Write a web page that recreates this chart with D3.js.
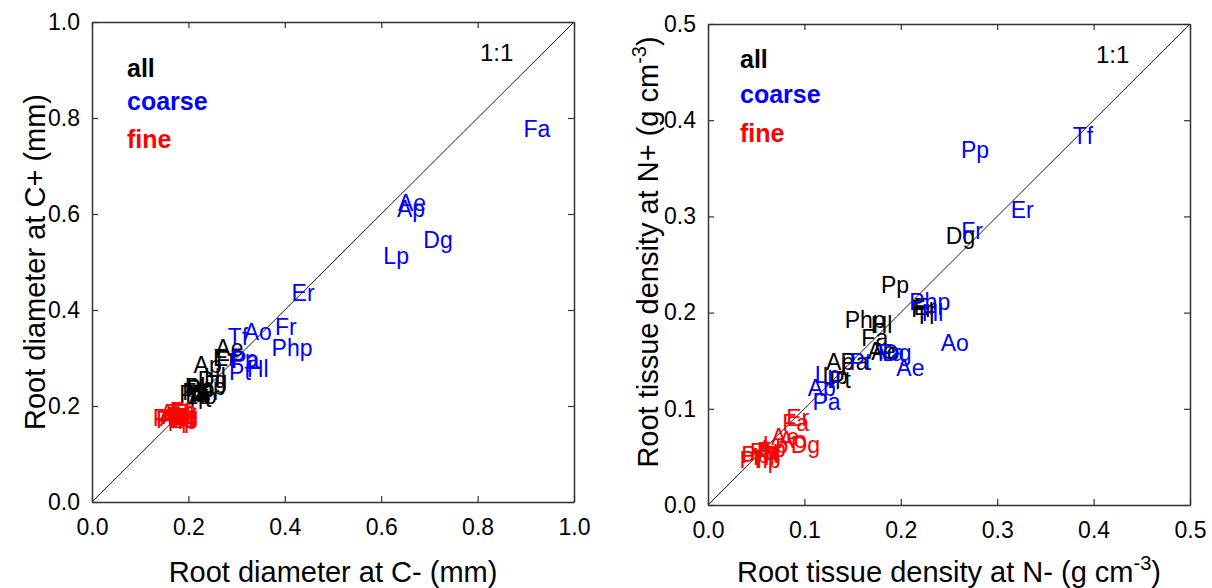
<!DOCTYPE html>
<html>
<head>
<meta charset="utf-8">
<script src="https://cdn.jsdelivr.net/npm/d3@7"></script>
<style>
  body { margin: 0; background: #fff; }
  svg { font-family: "Liberation Sans", Arial, sans-serif; }
</style>
</head>
<body>
<div id="chart"></div>
<script>
// --- data: [species, value at C-/N-, value at C+/N+] ---
var diamAll = [
	["Pa", 0.21, 0.225], ["Fa", 0.215, 0.23], ["Lp", 0.22, 0.22], ["Pt", 0.225, 0.215],
	["Ao", 0.23, 0.22], ["Tf", 0.22, 0.225], ["Pp", 0.225, 0.235], ["Php", 0.235, 0.24],
	["Dg", 0.25, 0.255], ["Hl", 0.255, 0.26], ["Ap", 0.24, 0.285], ["Fr", 0.28, 0.295],
	["Er", 0.275, 0.30], ["Ae", 0.285, 0.32]
];
var diamCoarse = [
	["Fa", 0.923, 0.777], ["Ae", 0.664, 0.623], ["Ap", 0.662, 0.610], ["Dg", 0.718, 0.546],
	["Lp", 0.631, 0.512], ["Er", 0.438, 0.435], ["Fr", 0.402, 0.365], ["Ao", 0.344, 0.354],
	["Tf", 0.303, 0.344], ["Php", 0.415, 0.321], ["Pa", 0.318, 0.296], ["Pp", 0.315, 0.298],
	["Hl", 0.344, 0.277], ["Pt", 0.307, 0.271]
];
var diamFine = [
	["Ap", 0.175, 0.18], ["Hl", 0.18, 0.175], ["Dg", 0.19, 0.18], ["Ao", 0.17, 0.185],
	["Lp", 0.185, 0.17], ["Tf", 0.18, 0.185], ["Php", 0.175, 0.17], ["Pt", 0.19, 0.175],
	["Pa", 0.185, 0.18], ["Ae", 0.17, 0.175], ["Fr", 0.195, 0.185], ["Er", 0.185, 0.19],
	["Fa", 0.19, 0.19], ["Pp", 0.155, 0.175]
];

var rtdAll = [
	["Dg", 0.262, 0.280], ["Pp", 0.194, 0.229], ["Php", 0.163, 0.192], ["Hl", 0.180, 0.187],
	["Fa", 0.173, 0.174], ["Ao", 0.184, 0.159], ["Ae", 0.180, 0.160], ["Er", 0.225, 0.206],
	["Fr", 0.222, 0.204], ["Tf", 0.225, 0.196], ["Ap", 0.137, 0.149], ["Pa", 0.152, 0.149],
	["Lp", 0.132, 0.134], ["Pt", 0.137, 0.130]
];
var rtdCoarse = [
	["Tf", 0.389, 0.384], ["Pp", 0.277, 0.369], ["Er", 0.326, 0.307], ["Fr", 0.274, 0.285],
	["Php", 0.230, 0.211], ["Hl", 0.233, 0.200], ["Ao", 0.256, 0.168], ["Fa", 0.190, 0.158],
	["Dg", 0.196, 0.158], ["Ae", 0.210, 0.142], ["Pt", 0.158, 0.149], ["Lp", 0.124, 0.135],
	["Ap", 0.118, 0.122], ["Pa", 0.123, 0.107]
];
var rtdFine = [
	["Er", 0.093, 0.090], ["Fa", 0.091, 0.085], ["Ae", 0.080, 0.071], ["Ao", 0.088, 0.068],
	["Dg", 0.101, 0.062], ["Lp", 0.070, 0.062], ["Ap", 0.066, 0.058], ["Fr", 0.062, 0.056],
	["Pa", 0.058, 0.055], ["Tf", 0.064, 0.052], ["Pt", 0.062, 0.054], ["Hl", 0.058, 0.050],
	["Pp", 0.049, 0.052], ["Php", 0.054, 0.047]
];

var diamTicks = [0, 0.2, 0.4, 0.6, 0.8, 1.0];
var rtdTicks = [0, 0.1, 0.2, 0.3, 0.4, 0.5];
var legendNames = ["all", "coarse", "fine"];
var groupColors = ["#000000", "#0000ff", "#ff0000"];

var svg = d3.select('#chart').append('svg').attr('width', 1212).attr('height', 588);

function drawPanel(p) {
	var x = d3.scaleLinear().domain([0, p.max]).range([p.left, p.right]);
	var y = d3.scaleLinear().domain([0, p.max]).range([p.bottom, p.top]);
	var g = svg.append('g');
	var fmt = d3.format('.1f');

	// 1:1 line
	g.append('line')
		.attr('x1', x(0)).attr('y1', y(0)).attr('x2', x(p.max)).attr('y2', y(p.max))
		.attr('stroke', '#000').attr('stroke-width', 0.9);

	// species labels, all -> coarse -> fine
	p.groups.forEach(function(data, i) {
		g.append('g').selectAll('text').data(data).enter().append('text')
			.attr('x', function(d) { return x(d[1]); })
			.attr('y', function(d) { return y(d[2]); })
			.attr('dy', '0.35em')
			.attr('text-anchor', 'middle')
			.attr('font-size', 23)
			.attr('fill', groupColors[i])
			.text(function(d) { return d[0]; });
	});

	// axes with inward ticks
	var axes = [
		[d3.axisBottom(x).tickFormat(fmt).tickPadding(17), 'translate(0,' + p.bottom + ')'],
		[d3.axisLeft(y).tickFormat(fmt).tickPadding(12), 'translate(' + p.left + ',0)'],
		[d3.axisTop(x).tickFormat(''), 'translate(0,' + p.top + ')'],
		[d3.axisRight(y).tickFormat(''), 'translate(' + p.right + ',0)']
	];
	axes.forEach(function(a) {
		var ax = g.append('g').attr('transform', a[1])
			.call(a[0].tickValues(p.ticks).tickSizeInner(-6).tickSizeOuter(0));
		ax.selectAll('text').attr('font-size', 23).attr('fill', '#000')
			.attr('font-family', '"Liberation Sans", Arial, sans-serif');
		ax.selectAll('line').attr('stroke', '#333').attr('stroke-width', 1.2);
		ax.select('.domain').attr('stroke', '#333').attr('stroke-width', 1.5);
	});

	// legend
	legendNames.forEach(function(name, i) {
		g.append('text').attr('x', p.legendX).attr('y', p.legendY + p.legendStep[i])
			.attr('font-size', 25).attr('font-weight', 'bold')
			.attr('fill', groupColors[i]).text(name);
	});

	g.append('text').attr('x', p.right - 94).attr('y', p.top + 39)
		.attr('font-size', 24).text('1:1');

	// axis titles
	var xt = g.append('text').attr('x', (p.left + p.right) / 2 + p.xTitleShift).attr('y', 582)
		.attr('text-anchor', 'middle').attr('font-size', 29);
	p.xTitle(xt);
	var yt = g.append('text')
		.attr('transform', 'translate(' + p.yTitleX + ',' + p.yTitleY + ') rotate(-90)')
		.attr('text-anchor', 'middle').attr('font-size', 29);
	p.yTitle(yt);
}

function withSup(base) {
	return function(t) {
		t.append('tspan').text(base + ' (g cm');
		t.append('tspan').attr('dy', -12).attr('font-size', 20).text('-3');
		t.append('tspan').attr('dy', 12).text(')');
	};
}

drawPanel({
	max: 1.0, ticks: diamTicks,
	left: 92, right: 574, top: 22, bottom: 502,
	groups: [diamAll, diamCoarse, diamFine],
	legendX: 127, legendY: 77, legendStep: [0, 33, 71],
	xTitleShift: 0, yTitleX: 45, yTitleY: 262,
	xTitle: function(t) { t.text('Root diameter at C- (mm)'); },
	yTitle: function(t) { t.text('Root diameter at C+ (mm)'); }
});

drawPanel({
	max: 0.5, ticks: rtdTicks,
	left: 708, right: 1190, top: 24, bottom: 505,
	groups: [rtdAll, rtdCoarse, rtdFine],
	legendX: 740, legendY: 68, legendStep: [0, 35, 74],
	xTitleShift: 0, yTitleX: 658, yTitleY: 252,
	xTitle: withSup('Root tissue density at N-'),
	yTitle: withSup('Root tissue density at N+')
});
</script>
</body>
</html>
